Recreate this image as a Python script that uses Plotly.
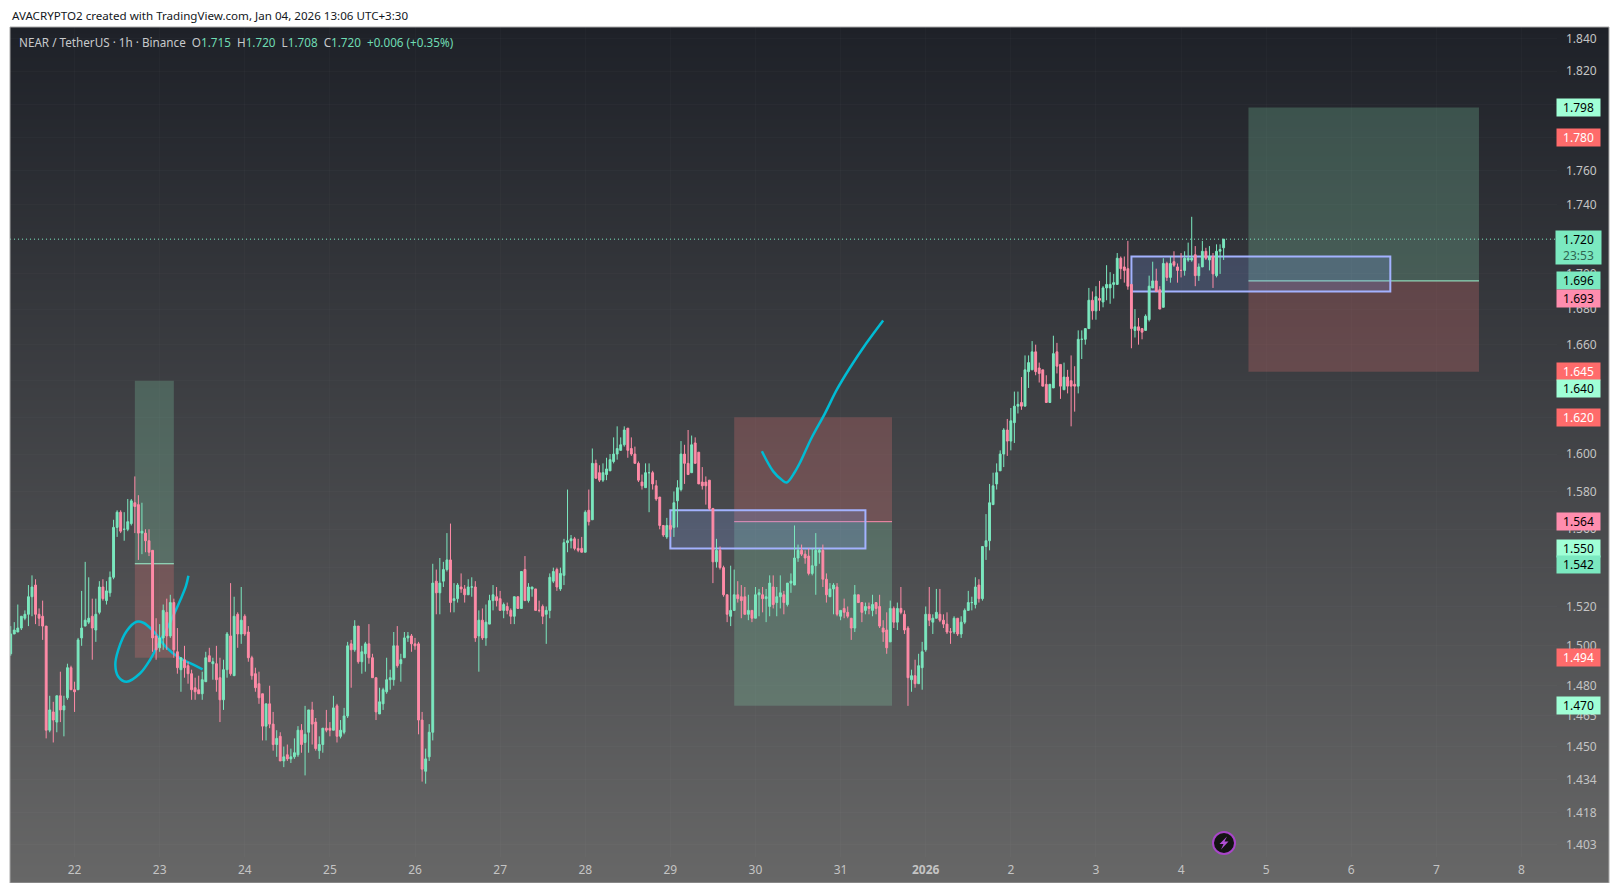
import math
import pandas as pd
import plotly.graph_objects as go

# hourly NEAR/USDT candles
opens = [
    1.496,1.506,1.507,1.509,1.514,1.516,1.525,1.531,1.516,1.515,
    1.510,1.458,1.467,1.462,1.475,1.468,1.474,1.489,1.478,1.478,
    1.504,1.510,1.512,1.515,1.508,1.517,1.530,1.523,1.527,1.535,
    1.561,1.569,1.560,1.560,1.563,1.574,1.573,1.558,1.558,1.554,
    1.549,1.505,1.499,1.504,1.517,1.505,1.522,1.497,1.488,1.493,
    1.490,1.486,1.479,1.478,1.476,1.482,1.495,1.491,1.491,1.484,
    1.473,1.488,1.505,1.485,1.516,1.506,1.515,1.507,1.494,1.486,
    1.481,1.476,1.460,1.471,1.461,1.451,1.455,1.443,1.446,1.444,
    1.445,1.446,1.458,1.452,1.457,1.468,1.462,1.448,1.451,1.459,
    1.459,1.458,1.470,1.455,1.457,1.465,1.501,1.498,1.510,1.492,
    1.496,1.501,1.494,1.484,1.466,1.471,1.477,1.483,1.483,1.500,
    1.491,1.494,1.504,1.505,1.501,1.501,1.463,1.438,1.445,1.457,
    1.533,1.527,1.533,1.539,1.544,1.523,1.524,1.530,1.529,1.526,
    1.530,1.530,1.505,1.513,1.504,1.511,1.523,1.525,1.524,1.518,
    1.520,1.518,1.515,1.525,1.519,1.539,1.523,1.529,1.529,1.518,
    1.520,1.516,1.518,1.533,1.539,1.529,1.536,1.553,1.554,1.555,
    1.550,1.550,1.548,1.570,1.565,1.595,1.590,1.586,1.589,1.591,
    1.596,1.600,1.602,1.605,1.614,1.603,1.600,1.595,1.585,1.582,
    1.590,1.590,1.583,1.577,1.562,1.556,1.562,1.561,1.575,1.581,
    1.600,1.595,1.590,1.606,1.601,1.585,1.585,1.586,1.571,1.543,
    1.549,1.540,1.526,1.515,1.518,1.526,1.525,1.525,1.516,1.518,
    1.514,1.526,1.526,1.524,1.520,1.530,1.522,1.525,1.526,1.521,
    1.532,1.531,1.545,1.549,1.547,1.546,1.537,1.541,1.548,1.549,
    1.534,1.525,1.529,1.530,1.515,1.519,1.517,1.514,1.509,1.526,
    1.522,1.518,1.520,1.518,1.522,1.520,1.509,1.508,1.502,1.519,
    1.512,1.519,1.516,1.509,1.483,1.485,1.481,1.489,1.498,1.516,
    1.512,1.514,1.516,1.513,1.511,1.507,1.507,1.514,1.506,1.512,
    1.518,1.522,1.521,1.531,1.524,1.551,1.554,1.573,1.584,1.591,
    1.600,1.613,1.607,1.617,1.626,1.628,1.626,1.645,1.646,1.656,
    1.647,1.646,1.638,1.628,1.636,1.656,1.649,1.635,1.642,1.640,
    1.638,1.637,1.663,1.663,1.669,1.685,1.679,1.686,1.684,1.692,
    1.692,1.694,1.694,1.709,1.704,1.703,1.694,1.668,1.670,1.669,
    1.668,1.674,1.692,1.696,1.691,1.681,1.706,1.698,1.707,1.704,
    1.702,1.702,1.708,1.708,1.711,1.699,1.704,1.713,1.708,1.710,1.699,1.713,1.715,
]
highs = [
    1.510,1.512,1.521,1.515,1.518,1.531,1.536,1.534,1.519,1.523,
    1.510,1.475,1.472,1.475,1.487,1.475,1.491,1.490,1.482,1.504,
    1.528,1.543,1.535,1.524,1.524,1.533,1.534,1.533,1.538,1.565,
    1.570,1.570,1.569,1.576,1.576,1.588,1.578,1.574,1.560,1.560,
    1.549,1.514,1.511,1.521,1.524,1.526,1.524,1.509,1.494,1.500,
    1.492,1.488,1.484,1.485,1.487,1.497,1.499,1.494,1.500,1.494,
    1.493,1.507,1.532,1.525,1.517,1.530,1.516,1.510,1.495,1.489,
    1.487,1.476,1.471,1.480,1.467,1.458,1.457,1.450,1.451,1.449,
    1.454,1.460,1.461,1.470,1.468,1.472,1.464,1.455,1.459,1.468,
    1.462,1.475,1.471,1.463,1.469,1.502,1.503,1.513,1.510,1.500,
    1.502,1.511,1.496,1.484,1.479,1.479,1.494,1.488,1.507,1.510,
    1.496,1.507,1.507,1.506,1.504,1.502,1.467,1.449,1.461,1.542,
    1.539,1.545,1.543,1.558,1.563,1.532,1.532,1.537,1.531,1.534,
    1.535,1.533,1.518,1.519,1.521,1.526,1.531,1.530,1.528,1.522,
    1.522,1.519,1.525,1.525,1.538,1.546,1.532,1.530,1.529,1.523,
    1.521,1.520,1.537,1.540,1.540,1.540,1.555,1.581,1.557,1.556,
    1.555,1.556,1.570,1.581,1.603,1.597,1.594,1.595,1.598,1.600,
    1.609,1.615,1.609,1.615,1.614,1.609,1.604,1.596,1.589,1.595,
    1.595,1.591,1.586,1.577,1.562,1.566,1.565,1.580,1.586,1.607,
    1.605,1.613,1.610,1.609,1.601,1.593,1.588,1.586,1.571,1.555,
    1.551,1.541,1.526,1.541,1.539,1.533,1.531,1.530,1.526,1.518,
    1.530,1.529,1.530,1.529,1.536,1.536,1.530,1.536,1.528,1.532,
    1.537,1.562,1.552,1.552,1.549,1.550,1.550,1.558,1.550,1.552,
    1.537,1.532,1.532,1.532,1.518,1.524,1.520,1.514,1.531,1.526,
    1.522,1.522,1.522,1.526,1.522,1.526,1.513,1.517,1.523,1.520,
    1.522,1.530,1.518,1.510,1.488,1.493,1.496,1.502,1.520,1.530,
    1.516,1.529,1.529,1.516,1.517,1.509,1.515,1.514,1.515,1.519,
    1.528,1.525,1.535,1.534,1.551,1.568,1.584,1.590,1.595,1.602,
    1.614,1.619,1.625,1.634,1.634,1.642,1.654,1.654,1.662,1.660,
    1.650,1.646,1.643,1.638,1.665,1.661,1.649,1.650,1.646,1.654,
    1.648,1.668,1.668,1.669,1.692,1.690,1.693,1.696,1.693,1.705,
    1.701,1.700,1.712,1.710,1.710,1.719,1.694,1.680,1.675,1.669,
    1.677,1.699,1.707,1.703,1.693,1.709,1.707,1.710,1.713,1.706,
    1.712,1.713,1.718,1.733,1.716,1.706,1.719,1.715,1.716,1.712,1.717,1.717,1.720,
]
lows = [
    1.495,1.506,1.507,1.508,1.513,1.510,1.515,1.511,1.510,1.503,
    1.454,1.457,1.452,1.457,1.462,1.455,1.473,1.478,1.467,1.478,
    1.500,1.510,1.511,1.493,1.502,1.516,1.523,1.521,1.525,1.534,
    1.556,1.558,1.554,1.559,1.562,1.558,1.544,1.547,1.548,1.546,
    1.497,1.493,1.497,1.498,1.498,1.504,1.494,1.486,1.477,1.484,
    1.481,1.473,1.473,1.476,1.473,1.482,1.492,1.483,1.477,1.462,
    1.468,1.484,1.485,1.485,1.499,1.501,1.505,1.492,1.483,1.477,
    1.471,1.453,1.453,1.459,1.448,1.445,1.443,1.440,1.443,1.442,
    1.444,1.445,1.447,1.436,1.447,1.451,1.448,1.444,1.447,1.457,
    1.455,1.458,1.452,1.454,1.456,1.464,1.479,1.497,1.491,1.486,
    1.487,1.491,1.484,1.463,1.466,1.468,1.476,1.478,1.480,1.489,
    1.482,1.494,1.502,1.497,1.498,1.456,1.433,1.432,1.443,1.453,
    1.516,1.516,1.530,1.538,1.517,1.517,1.522,1.527,1.522,1.526,
    1.525,1.502,1.487,1.503,1.500,1.511,1.518,1.520,1.518,1.514,
    1.516,1.511,1.511,1.519,1.519,1.523,1.522,1.525,1.518,1.517,
    1.511,1.501,1.514,1.532,1.528,1.528,1.531,1.548,1.550,1.549,
    1.548,1.548,1.548,1.562,1.565,1.587,1.585,1.585,1.586,1.591,
    1.595,1.597,1.602,1.604,1.598,1.599,1.595,1.585,1.581,1.582,
    1.569,1.581,1.575,1.560,1.556,1.555,1.556,1.556,1.561,1.580,
    1.584,1.589,1.590,1.595,1.584,1.581,1.573,1.570,1.532,1.540,
    1.539,1.525,1.512,1.510,1.518,1.522,1.514,1.516,1.513,1.512,
    1.514,1.515,1.517,1.512,1.515,1.519,1.515,1.519,1.516,1.520,
    1.527,1.531,1.543,1.546,1.542,1.536,1.536,1.526,1.542,1.530,
    1.522,1.525,1.516,1.515,1.513,1.514,1.514,1.503,1.507,1.522,
    1.512,1.516,1.516,1.515,1.516,1.509,1.502,1.496,1.502,1.509,
    1.508,1.516,1.506,1.470,1.477,1.479,1.481,1.478,1.497,1.510,
    1.506,1.514,1.512,1.509,1.506,1.501,1.506,1.505,1.504,1.511,
    1.518,1.518,1.519,1.522,1.523,1.544,1.549,1.573,1.581,1.591,
    1.593,1.599,1.602,1.606,1.622,1.624,1.626,1.636,1.646,1.643,
    1.639,1.637,1.628,1.628,1.636,1.644,1.630,1.635,1.633,1.615,
    1.623,1.633,1.652,1.660,1.669,1.674,1.674,1.679,1.681,1.685,
    1.683,1.686,1.694,1.697,1.695,1.691,1.658,1.664,1.660,1.663,
    1.668,1.673,1.692,1.690,1.680,1.681,1.696,1.695,1.704,1.695,
    1.698,1.699,1.707,1.707,1.693,1.696,1.704,1.708,1.702,1.692,1.698,1.700,1.708,
]
closes = [
    1.506,1.508,1.509,1.515,1.516,1.525,1.530,1.516,1.514,1.510,
    1.458,1.468,1.463,1.475,1.468,1.470,1.489,1.478,1.477,1.503,
    1.509,1.513,1.514,1.509,1.516,1.530,1.524,1.528,1.535,1.561,
    1.569,1.559,1.560,1.564,1.575,1.572,1.558,1.559,1.554,1.548,
    1.504,1.498,1.504,1.518,1.505,1.522,1.498,1.489,1.494,1.489,
    1.486,1.478,1.477,1.476,1.483,1.494,1.492,1.492,1.483,1.473,
    1.488,1.506,1.486,1.515,1.506,1.513,1.506,1.494,1.485,1.479,
    1.474,1.460,1.471,1.461,1.451,1.454,1.443,1.445,1.444,1.445,
    1.447,1.458,1.451,1.456,1.468,1.461,1.449,1.451,1.459,1.458,
    1.458,1.469,1.455,1.458,1.465,1.500,1.498,1.510,1.492,1.497,
    1.501,1.494,1.484,1.467,1.472,1.478,1.483,1.484,1.500,1.490,
    1.493,1.504,1.505,1.501,1.500,1.463,1.439,1.444,1.457,1.532,
    1.527,1.532,1.539,1.544,1.522,1.524,1.531,1.529,1.526,1.530,
    1.530,1.504,1.513,1.504,1.512,1.523,1.526,1.523,1.518,1.521,
    1.518,1.515,1.525,1.519,1.538,1.523,1.530,1.530,1.518,1.518,
    1.515,1.518,1.535,1.538,1.530,1.537,1.553,1.554,1.555,1.550,
    1.549,1.548,1.569,1.564,1.595,1.587,1.586,1.590,1.592,1.597,
    1.600,1.603,1.605,1.613,1.602,1.600,1.595,1.586,1.583,1.590,
    1.590,1.584,1.576,1.562,1.557,1.562,1.560,1.574,1.582,1.600,
    1.595,1.589,1.605,1.595,1.584,1.583,1.583,1.571,1.543,1.549,
    1.540,1.526,1.516,1.518,1.526,1.524,1.523,1.516,1.518,1.514,
    1.526,1.527,1.524,1.525,1.532,1.521,1.525,1.527,1.522,1.532,
    1.533,1.545,1.549,1.547,1.545,1.537,1.541,1.549,1.549,1.534,
    1.526,1.529,1.531,1.516,1.518,1.517,1.515,1.509,1.526,1.522,
    1.517,1.520,1.519,1.521,1.519,1.510,1.507,1.499,1.519,1.512,
    1.519,1.517,1.508,1.484,1.485,1.481,1.490,1.497,1.516,1.513,
    1.514,1.517,1.513,1.511,1.507,1.507,1.514,1.506,1.512,1.518,
    1.522,1.522,1.530,1.524,1.551,1.554,1.574,1.583,1.590,1.600,
    1.613,1.607,1.618,1.626,1.627,1.626,1.646,1.650,1.656,1.645,
    1.644,1.637,1.628,1.638,1.655,1.648,1.637,1.642,1.637,1.637,
    1.637,1.663,1.663,1.669,1.685,1.679,1.687,1.685,1.692,1.694,
    1.694,1.695,1.709,1.703,1.702,1.693,1.669,1.670,1.668,1.667,
    1.676,1.693,1.696,1.690,1.680,1.706,1.698,1.706,1.705,1.702,
    1.702,1.709,1.709,1.709,1.699,1.704,1.713,1.709,1.710,1.700,1.713,1.714,1.720,
]
times = pd.date_range("2025-12-21 06:00", periods=len(closes), freq="h")

price_ticks = [1.84, 1.82, 1.80, 1.78, 1.76, 1.74, 1.72, 1.70, 1.68, 1.66, 1.64, 1.62, 1.60,
               1.58, 1.56, 1.54, 1.52, 1.50, 1.48, 1.465, 1.45, 1.434, 1.418, 1.403]
day_ticks = ["2025-12-22", "2025-12-23", "2025-12-24", "2025-12-25", "2025-12-26", "2025-12-27",
             "2025-12-28", "2025-12-29", "2025-12-30", "2025-12-31", "2026-01-01", "2026-01-02",
             "2026-01-03", "2026-01-04", "2026-01-05", "2026-01-06", "2026-01-07", "2026-01-08"]
day_labels = ["22", "23", "24", "25", "26", "27", "28", "29", "30", "31", "<b>2026</b>",
              "2", "3", "4", "5", "6", "7", "8"]

# position tools: start, end, target/stop edges, entry
tool_starts = ["2025-12-22 17:00", "2025-12-29 18:00", "2026-01-04 19:00"]
tool_ends = ["2025-12-23 04:00", "2025-12-31 14:30", "2026-01-07 12:00"]
tool_greens = [1.640, 1.470, 1.798]
tool_reds = [1.494, 1.620, 1.645]
tool_entries = [1.542, 1.564, 1.696]
entry_colors = ["#9ff5d0", "#ff8dae", "#9ff5d0"]

# blue boxes
box_starts = ["2025-12-29 00:00", "2026-01-03 10:00"]
box_ends = ["2025-12-31 07:00", "2026-01-06 11:00"]
box_tops = [1.570, 1.710]
box_bottoms = [1.550, 1.690]

# hand drawn strokes, hours from 2026-01-01 00:00
loop_hours = [-207.9, -208.6, -210.3, -213.1, -215.9, -218.7, -221.5, -225.3, -227.65, -228.5,
              -227.65, -225.3, -222.5, -220.6, -217.8, -214.0, -210.3, -206.5, -203.9]
loop_prices = [1.5358, 1.5304, 1.5228, 1.5117, 1.5024, 1.4930, 1.4862, 1.4820, 1.4845, 1.4905,
               1.4981, 1.5075, 1.5122, 1.5117, 1.5075, 1.4990, 1.4938, 1.4905, 1.4882]
check_hours = [-12.0, -16.7, -21.4, -25.1, -28.4, -32.2, -35.5, -36.9, -39.2, -40.6, -43.0, -46.2]
check_prices = [1.6736, 1.6609, 1.6470, 1.6349, 1.6221, 1.6087, 1.5952, 1.5904, 1.5848, 1.5862,
                1.5907, 1.6015]

# price scale tags: value, background, text colour, push down (px)
tag_prices = [1.798, 1.780, 1.696, 1.693, 1.645, 1.640, 1.620, 1.564, 1.550, 1.542, 1.494, 1.470]
tag_colors = ["#a0ffd6", "#ff6b6b", "#7be9c0", "#ff8dae", "#ff6b6b", "#a0ffd6",
              "#ff6b6b", "#ff8dae", "#a0ffd6", "#7be9c0", "#ff6b6b", "#a0ffd6"]
tag_text = ["#000000", "#ffffff", "#000000", "#000000", "#ffffff", "#000000",
            "#ffffff", "#000000", "#000000", "#000000", "#ffffff", "#000000"]
tag_shift = [0, 0, 0, -12, 0, -8, 0, 0, 0, -1, 0, 0]

UP = "#7be8bf"
DOWN = "#ff8ba7"
FONT = "Noto Sans"
W, H = 1620, 883
L, R, T, B = 10, 11, 27, 0
PW, PH = W - L - R, H - T - B
AXIS_X = (1557 - L) / PW      # right edge of the candle pane
AXIS_Y = (H - 857) / PH       # bottom edge of the candle pane
TIME_RANGE = ["2025-12-21 05:48", "2026-01-08 10:00"]
PRICE_RANGE = [math.log10(1.3971), math.log10(1.8473)]


def px_x(x):
    return (x - L) / PW


def px_y(y):
    return (H - y) / PH


fig = go.Figure()

# background gradient sits on its own axes, behind the candle pane
fig.add_trace(go.Heatmap(
    x=[0, 1], y=[0, 1], z=[[0, 0], [1, 1]], zsmooth="best", showscale=False, hoverinfo="skip",
    colorscale=[[0, "rgb(103,103,103)"], [1, "rgb(30,33,40)"]],
    xaxis="x", yaxis="y",
))
base = pd.Timestamp("2026-01-01")
for hours, prices in [(loop_hours, loop_prices), (check_hours, check_prices)]:
    fig.add_trace(go.Scatter(
        x=[base + pd.Timedelta(hours=h) for h in hours], y=prices, mode="lines",
        line=dict(color="#00bcd4", width=2.5, shape="spline"),
        xaxis="x2", yaxis="y2", showlegend=False, hoverinfo="skip",
    ))
# candles go on an overlaying pair of axes so they cover the strokes
fig.add_trace(go.Candlestick(
    x=times, open=opens, high=highs, low=lows, close=closes,
    increasing=dict(line=dict(color=UP, width=1), fillcolor=UP),
    decreasing=dict(line=dict(color=DOWN, width=1), fillcolor=DOWN),
    whiskerwidth=0, xaxis="x3", yaxis="y3", showlegend=False,
))

shapes = []
for i in range(len(tool_starts)):
    for edge, fill in [(tool_greens[i], "rgba(130,210,170,0.25)"), (tool_reds[i], "rgba(230,115,115,0.25)")]:
        shapes.append(dict(type="rect", xref="x2", yref="y2", layer="between",
                           x0=tool_starts[i], x1=tool_ends[i], y0=tool_entries[i], y1=edge,
                           fillcolor=fill, line_width=0))
    shapes.append(dict(type="line", xref="x2", yref="y2", layer="between",
                       x0=tool_starts[i], x1=tool_ends[i], y0=tool_entries[i], y1=tool_entries[i],
                       line=dict(color=entry_colors[i], width=1)))
for i in range(len(box_starts)):
    shapes.append(dict(type="rect", xref="x2", yref="y2", layer="between",
                       x0=box_starts[i], x1=box_ends[i], y0=box_bottoms[i], y1=box_tops[i],
                       fillcolor="rgba(130,165,255,0.2)", line=dict(color="#a3b2ff", width=2)))
# last price line
shapes.append(dict(type="line", xref="paper", yref="y2", x0=0, x1=AXIS_X, y0=closes[-1], y1=closes[-1],
                   line=dict(color=UP, width=1, dash="1px,3px")))
# chart frame
shapes.append(dict(type="rect", xref="paper", yref="paper", x0=0, x1=1, y0=0, y1=1,
                   line=dict(color="#a8a8a8", width=1)))
# replay icon
shapes.append(dict(type="circle", xref="paper", yref="paper", xsizemode="pixel", ysizemode="pixel",
                   xanchor=px_x(1224), yanchor=px_y(843), x0=-11, x1=11, y0=-11, y1=11,
                   fillcolor="#131313", line=dict(color="#a845c8", width=2)))
bolt = [(3, -6.5), (-4.5, 1), (-0.5, 1), (-3, 6.5), (4.5, -1.5), (0.5, -1.5)]
shapes.append(dict(type="path", xref="paper", yref="paper", line_width=0, fillcolor="#b14fd6",
                   path="M " + " L ".join(f"{px_x(1224 + a):.5f},{px_y(843 + b):.5f}" for a, b in bolt) + " Z"))

annotations = [
    dict(xref="paper", yref="paper", x=px_x(10), y=px_y(15), text="AVACRYPTO2 created with TradingView.com, Jan 04, 2026 13:06 UTC+3:30",
         showarrow=False, xanchor="left", yanchor="middle", font=dict(family=FONT, size=11.6, color="#131722")),
    dict(xref="paper", yref="paper", x=px_x(17), y=px_y(42),
         text=("NEAR / TetherUS · 1h · Binance  "
               "O<span style='color:#6fdcb4'>1.715</span>  H<span style='color:#6fdcb4'>1.720</span>  "
               "L<span style='color:#6fdcb4'>1.708</span>  C<span style='color:#6fdcb4'>1.720</span>  "
               "<span style='color:#6fdcb4'>+0.006 (+0.35%)</span>"),
         showarrow=False, xanchor="left", yanchor="middle", font=dict(family=FONT, size=11.7, color="#c8cacc")),
    # current price tag with countdown
    dict(xref="paper", yref="y2", x=px_x(1578.5), y=math.log10(closes[-1]), xanchor="center",
         text="1.720<br><span style='color:#2f6652'>23:53</span>", showarrow=False, yanchor="top", yshift=9,
         width=43, height=31, bgcolor="#7be9c0", font=dict(family=FONT, size=12, color="#000000")),
]
for p, bg, fg, shift in zip(tag_prices, tag_colors, tag_text, tag_shift):
    annotations.append(dict(xref="paper", yref="y2", x=px_x(1578.5), y=math.log10(p), text=f"{p:.3f}",
                            xanchor="center", showarrow=False, yshift=shift, width=43, height=17,
                            bgcolor=bg, borderpad=0, font=dict(family=FONT, size=12, color=fg)))

GRID = "rgba(255,255,255,0.02)"
TICK = "#c4c4c4"
fig.update_layout(
    width=W, height=H, autosize=False,
    margin=dict(l=L, r=R, t=T, b=B, pad=0),
    paper_bgcolor="#ffffff", plot_bgcolor="rgba(0,0,0,0)",
    boxgap=0.25, showlegend=False,
    xaxis=dict(domain=[0, 1], range=[0, 1], visible=False, fixedrange=True),
    yaxis=dict(domain=[0, 1], range=[0, 1], visible=False, fixedrange=True),
    xaxis2=dict(domain=[0, AXIS_X], anchor="y2", type="date", range=TIME_RANGE,
                tickmode="array", tickvals=day_ticks, ticktext=day_labels, tickangle=0,
                ticks="", ticklabelstandoff=4, showgrid=True, gridcolor=GRID, zeroline=False, showline=False,
                tickfont=dict(family=FONT, size=12, color=TICK)),
    yaxis2=dict(domain=[AXIS_Y, 1], anchor="x2", side="right", type="log", range=PRICE_RANGE,
                tickmode="array", tickvals=price_ticks, ticktext=[f"{v:.3f}" for v in price_ticks],
                ticks="", ticklabelstandoff=8, showgrid=True, gridcolor=GRID, zeroline=False, showline=False,
                tickfont=dict(family=FONT, size=12, color=TICK)),
    xaxis3=dict(overlaying="x2", anchor="y3", type="date", range=TIME_RANGE, visible=False,
                rangeslider=dict(visible=False)),
    yaxis3=dict(overlaying="y2", anchor="x3", type="log", range=PRICE_RANGE, visible=False),
    shapes=shapes, annotations=annotations,
)

# the page's default body margin would shift everything by 8px
fig.write_html("out.html", post_script="document.body.style.margin='0'",
               config={"displayModeBar": False})
